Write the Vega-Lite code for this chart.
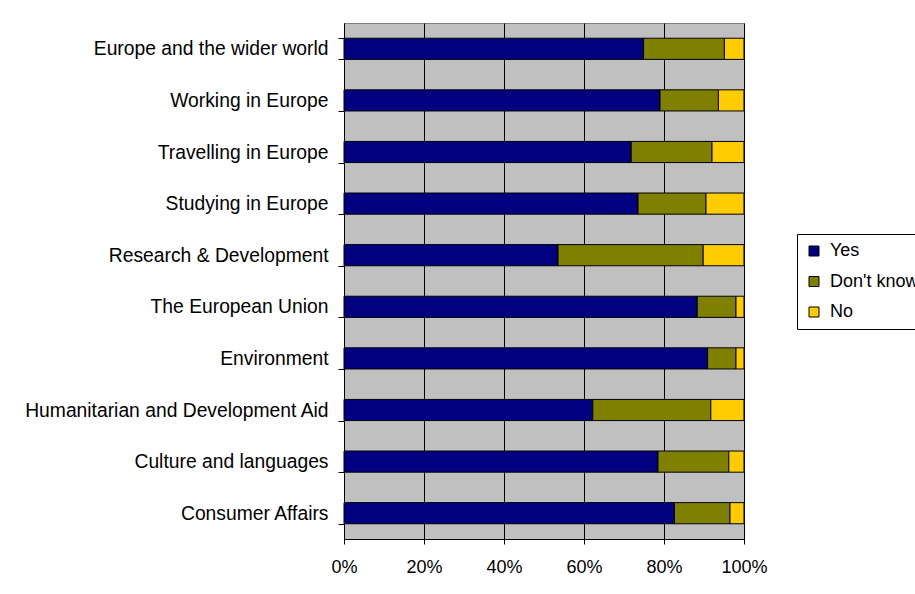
{
  "$schema": "https://vega.github.io/schema/vega-lite/v6.json",
  "width": 400,
  "height": 516,
  "autosize": {"type": "none"},
  "padding": {"left": 344, "top": 23, "right": 171, "bottom": 55},
  "background": "white",
  "config": {
    "view": {"fill": "#C0C0C0", "stroke": "#808080", "strokeWidth": 1},
    "font": "Liberation Sans"
  },
  "data": {
    "values": [
      {"topic": "Europe and the wider world", "response": "Yes", "value": 74.9, "ord": 1},
      {"topic": "Europe and the wider world", "response": "Don't know", "value": 20.2, "ord": 2},
      {"topic": "Europe and the wider world", "response": "No", "value": 4.9, "ord": 3},
      {"topic": "Working in Europe", "response": "Yes", "value": 79.0, "ord": 1},
      {"topic": "Working in Europe", "response": "Don't know", "value": 14.6, "ord": 2},
      {"topic": "Working in Europe", "response": "No", "value": 6.4, "ord": 3},
      {"topic": "Travelling in Europe", "response": "Yes", "value": 71.8, "ord": 1},
      {"topic": "Travelling in Europe", "response": "Don't know", "value": 20.2, "ord": 2},
      {"topic": "Travelling in Europe", "response": "No", "value": 8.0, "ord": 3},
      {"topic": "Studying in Europe", "response": "Yes", "value": 73.5, "ord": 1},
      {"topic": "Studying in Europe", "response": "Don't know", "value": 17.0, "ord": 2},
      {"topic": "Studying in Europe", "response": "No", "value": 9.5, "ord": 3},
      {"topic": "Research & Development", "response": "Yes", "value": 53.5, "ord": 1},
      {"topic": "Research & Development", "response": "Don't know", "value": 36.3, "ord": 2},
      {"topic": "Research & Development", "response": "No", "value": 10.2, "ord": 3},
      {"topic": "The European Union", "response": "Yes", "value": 88.3, "ord": 1},
      {"topic": "The European Union", "response": "Don't know", "value": 9.7, "ord": 2},
      {"topic": "The European Union", "response": "No", "value": 2.0, "ord": 3},
      {"topic": "Environment", "response": "Yes", "value": 90.9, "ord": 1},
      {"topic": "Environment", "response": "Don't know", "value": 7.1, "ord": 2},
      {"topic": "Environment", "response": "No", "value": 2.0, "ord": 3},
      {"topic": "Humanitarian and Development Aid", "response": "Yes", "value": 62.2, "ord": 1},
      {"topic": "Humanitarian and Development Aid", "response": "Don't know", "value": 29.5, "ord": 2},
      {"topic": "Humanitarian and Development Aid", "response": "No", "value": 8.3, "ord": 3},
      {"topic": "Culture and languages", "response": "Yes", "value": 78.5, "ord": 1},
      {"topic": "Culture and languages", "response": "Don't know", "value": 17.7, "ord": 2},
      {"topic": "Culture and languages", "response": "No", "value": 3.8, "ord": 3},
      {"topic": "Consumer Affairs", "response": "Yes", "value": 82.6, "ord": 1},
      {"topic": "Consumer Affairs", "response": "Don't know", "value": 13.9, "ord": 2},
      {"topic": "Consumer Affairs", "response": "No", "value": 3.5, "ord": 3}
    ]
  },
  "mark": {"type": "bar", "stroke": "black", "strokeWidth": 1},
  "encoding": {
    "y": {
      "field": "topic",
      "type": "nominal",
      "sort": null,
      "scale": {"paddingInner": 0.59, "paddingOuter": 0.295},
      "axis": {
        "title": null,
        "tickBand": "extent",
        "grid": false,
        "domainColor": "black",
        "tickColor": "black",
        "tickSize": 6,
        "labelPadding": 10,
        "labelFontSize": 19.3,
        "labelLimit": 400,
        "labelColor": "black",
        "labelFont": "Liberation Sans"
      }
    },
    "x": {
      "field": "value",
      "type": "quantitative",
      "stack": "normalize",
      "scale": {"domain": [0, 1], "nice": false},
      "axis": {
        "title": null,
        "format": "%",
        "values": [0, 0.2, 0.4, 0.6, 0.8, 1],
        "grid": true,
        "gridColor": "black",
        "gridOpacity": 1,
        "gridWidth": 1,
        "domainColor": "black",
        "tickColor": "black",
        "tickSize": 5,
        "labelPadding": 14,
        "labelFontSize": 18,
        "labelFlush": false,
        "labelOverlap": false,
        "labelColor": "black",
        "labelFont": "Liberation Sans"
      }
    },
    "color": {
      "field": "response",
      "type": "nominal",
      "scale": {"domain": ["Yes", "Don't know", "No"], "range": ["#000080", "#808000", "#FFCC00"]},
      "legend": {
        "title": null,
        "orient": "none",
        "legendX": 453,
        "legendY": 211,
        "symbolType": "square",
        "symbolSize": 100,
        "symbolStrokeColor": "black",
        "symbolStrokeWidth": 1,
        "symbolOpacity": 1,
        "labelFontSize": 18,
        "labelColor": "black",
        "labelFont": "Liberation Sans",
        "labelLimit": 300,
        "rowPadding": 12.5,
        "strokeColor": "black",
        "fillColor": "white",
        "padding": 8,
        "labelOffset": 7
      }
    },
    "order": {"field": "ord", "type": "quantitative"}
  }
}
